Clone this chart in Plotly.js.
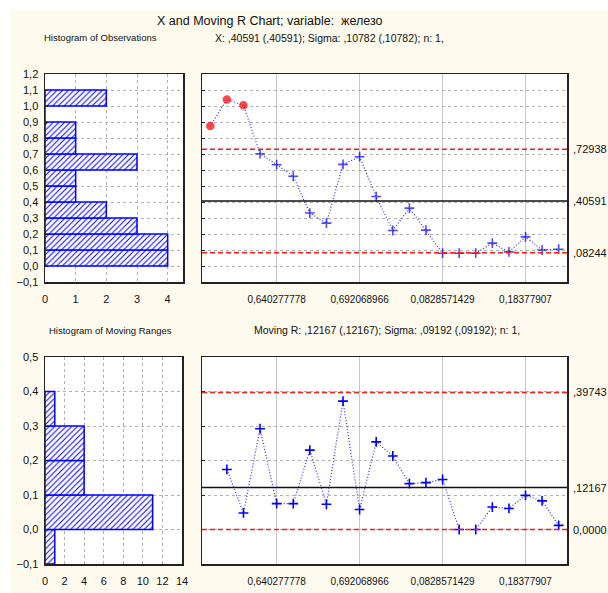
<!DOCTYPE html>
<html>
<head>
<meta charset="utf-8">
<script src="https://cdn.plot.ly/plotly-3.0.1.min.js"></script>
<style>html,body{margin:0;padding:0;background:#fff;}#chart{width:608px;height:593px;}</style>
</head>
<body>
<div id="chart"></div>
<script>
// ---- data ----
var xValues = [0.875, 1.041, 1.005, 0.702, 0.633, 0.561, 0.331, 0.268, 0.635, 0.683, 0.434,
               0.222, 0.362, 0.224, 0.080, 0.080, 0.080, 0.143, 0.088, 0.182, 0.100, 0.105];
var mrValues = [0.174, 0.048, 0.292, 0.075, 0.075, 0.230, 0.073, 0.372, 0.058, 0.254, 0.213,
                0.133, 0.136, 0.145, 0.000, 0.000, 0.065, 0.061, 0.099, 0.083, 0.012];
var xCL = 0.40591, xUCL = 0.72938, xLCL = 0.08244;
var mrCL = 0.12167, mrUCL = 0.39743, mrLCL = 0.0;
var xCtrlLabels = [',72938', ',40591', ',08244'];
var mrCtrlLabels = [',39743', ',12167', '0,0000'];
var histObsBins = [0.0, 0.1, 0.2, 0.3, 0.4, 0.5, 0.6, 0.7, 0.8, 0.9, 1.0];
var histObsCounts = [4, 4, 3, 2, 1, 1, 3, 1, 1, 0, 2];
var histMRBins = [-0.1, 0.0, 0.1, 0.2, 0.3];
var histMRCounts = [1, 11, 4, 4, 1];
var binWidth = 0.1;
var sampleTickVals = [5, 10, 15, 20];
var sampleTickText = ['0,640277778', '0,692068966', '0,0828571429', '0,18377907'];
var titleText = 'X and Moving R Chart; variable:  железо';
var subHistObs = 'Histogram of Observations';
var subX = 'X: ,40591 (,40591); Sigma: ,10782 (,10782); n: 1,';
var subHistMR = 'Histogram of Moving Ranges';
var subMR = 'Moving R: ,12167 (,12167); Sigma: ,09192 (,09192); n: 1,';

// ---- build ----
var W = 608, H = 593;
function px(x){return x / W;}
function py(y){return 1 - y / H;}
var FONT = '"Liberation Sans Narrow", "Arial Narrow", "Liberation Sans", Arial, sans-serif';
var BLUE = '#0000ff';

var xIdx = xValues.map(function(v, i){return i + 1;});
var mrIdx = mrValues.map(function(v, i){return i + 2;});
var xColors = xValues.map(function(v){return v > xUCL ? '#ff0000' : BLUE;});
var xSymbols = xValues.map(function(v){return v > xUCL ? 'circle' : 'cross-thin';});
var xSizes = xValues.map(function(v){return v > xUCL ? 7 : 7;});

var hatch = {shape: '/', fgcolor: BLUE, bgcolor: '#ffffff', size: 4, solidity: 0.25};
var DOT = '1px,2px';
var RDASH = '5px,3px';

var traces = [
  {type: 'bar', orientation: 'h', xaxis: 'x', yaxis: 'y',
   x: histObsCounts, y: histObsBins.map(function(b){return b + binWidth / 2;}), width: binWidth,
   marker: {color: '#ffffff', pattern: hatch, line: {color: BLUE, width: 1.5}}, hoverinfo: 'none'},
  {type: 'scatter', mode: 'lines+markers', xaxis: 'x2', yaxis: 'y2',
   x: xIdx, y: xValues,
   line: {color: '#2d2dff', width: 1.2, dash: DOT},
   marker: {symbol: xSymbols, color: xColors, size: xSizes, line: {color: xColors, width: 1.6}}},
  {type: 'bar', orientation: 'h', xaxis: 'x3', yaxis: 'y3',
   x: histMRCounts, y: histMRBins.map(function(b){return b + binWidth / 2;}), width: binWidth,
   marker: {color: '#ffffff', pattern: hatch, line: {color: BLUE, width: 1.5}}, hoverinfo: 'none'},
  {type: 'scatter', mode: 'lines+markers', xaxis: 'x4', yaxis: 'y4',
   x: mrIdx, y: mrValues,
   line: {color: '#2d2dff', width: 1.2, dash: DOT},
   marker: {symbol: 'cross-thin', color: BLUE, size: 7, line: {color: BLUE, width: 1.6}}}
];

var frame = {showline: true, mirror: true, linecolor: '#222', linewidth: 1.5, zeroline: false,
             tickfont: {family: FONT, size: 11, color: '#111'}, fixedrange: true};
function ax(extra){ var o = {}; for (var k in frame) o[k] = frame[k]; for (var k2 in extra) o[k2] = extra[k2]; return o; }
var smallTick = {family: FONT, size: 10, color: '#111'};

var topD = [py(282), py(74)], botD = [py(564), py(357)];
var layout = {
  width: W, height: H, margin: {l: 0, r: 0, t: 0, b: 0},
  paper_bgcolor: '#fffaee', plot_bgcolor: '#ffffff', showlegend: false,
  separators: ', ', font: {family: FONT, size: 11, color: '#111'},
  bargap: 0,
  xaxis: ax({domain: [px(45), px(183)], anchor: 'y', range: [0, 4.5], tickvals: [0, 1, 2, 3, 4],
             showgrid: true, gridcolor: '#b0b0b0', griddash: 'dot', ticks: '', ticklabelstandoff: 6}),
  yaxis: ax({domain: topD, anchor: 'x', range: [-0.1, 1.2], dtick: 0.1, tick0: 0, tickformat: '.1f',
             showgrid: true, gridcolor: '#b0b0b0', griddash: 'dot', ticks: 'inside', ticklen: 3, tickcolor: '#222', ticklabelstandoff: 3}),
  xaxis2: ax({domain: [px(202), px(567)], anchor: 'y2', range: [0.5, 22.5], tickvals: sampleTickVals, ticktext: sampleTickText,
              showgrid: true, gridcolor: '#c8c8c8', ticks: '', ticklabelstandoff: 7, tickfont: smallTick}),
  yaxis2: ax({domain: topD, anchor: 'x2', range: [-0.1, 1.2], dtick: 0.1, tick0: 0, showticklabels: false,
              showgrid: true, gridcolor: '#b0b0b0', griddash: 'dot', ticks: 'inside', ticklen: 3, tickcolor: '#222'}),
  xaxis3: ax({domain: [px(45), px(182)], anchor: 'y3', range: [0, 14], dtick: 2, tick0: 0,
              showgrid: true, gridcolor: '#b0b0b0', griddash: 'dot', ticks: '', ticklabelstandoff: 6}),
  yaxis3: ax({domain: botD, anchor: 'x3', range: [-0.1, 0.5], dtick: 0.1, tick0: 0, tickformat: '.1f',
              showgrid: true, gridcolor: '#b0b0b0', griddash: 'dot', ticks: 'inside', ticklen: 3, tickcolor: '#222', ticklabelstandoff: 3}),
  xaxis4: ax({domain: [px(202), px(567)], anchor: 'y4', range: [0.5, 22.5], tickvals: sampleTickVals, ticktext: sampleTickText,
              showgrid: true, gridcolor: '#c8c8c8', ticks: '', ticklabelstandoff: 7, tickfont: smallTick}),
  yaxis4: ax({domain: botD, anchor: 'x4', range: [-0.1, 0.5], dtick: 0.1, tick0: 0, showticklabels: false,
              showgrid: true, gridcolor: '#b0b0b0', griddash: 'dot', ticks: 'inside', ticklen: 3, tickcolor: '#222'}),
  shapes: [
    {type: 'rect', xref: 'paper', yref: 'paper', x0: 0, x1: px(10), y0: 0, y1: 1, fillcolor: '#ffffff', line: {width: 0}, layer: 'below'},
    {type: 'rect', xref: 'paper', yref: 'paper', x0: 0, x1: 1, y0: py(10), y1: 1, fillcolor: '#ffffff', line: {width: 0}, layer: 'below'},
    {type: 'line', xref: 'x2 domain', yref: 'y2', x0: 0, x1: 1, y0: xUCL, y1: xUCL, line: {color: '#ff1a1a', width: 1.5, dash: RDASH}},
    {type: 'line', xref: 'x2 domain', yref: 'y2', x0: 0, x1: 1, y0: xLCL, y1: xLCL, line: {color: '#ff1a1a', width: 1.5, dash: RDASH}},
    {type: 'line', xref: 'x2 domain', yref: 'y2', x0: 0, x1: 1, y0: xCL, y1: xCL, line: {color: '#111', width: 1.5}},
    {type: 'line', xref: 'x4 domain', yref: 'y4', x0: 0, x1: 1, y0: mrUCL, y1: mrUCL, line: {color: '#ff1a1a', width: 1.5, dash: RDASH}},
    {type: 'line', xref: 'x4 domain', yref: 'y4', x0: 0, x1: 1, y0: mrLCL, y1: mrLCL, line: {color: '#ff1a1a', width: 1.5, dash: RDASH}},
    {type: 'line', xref: 'x4 domain', yref: 'y4', x0: 0, x1: 1, y0: mrCL, y1: mrCL, line: {color: '#111', width: 1.5}}
  ],
  annotations: [
    {text: titleText, xref: 'paper', yref: 'paper', x: px(270), y: py(21), xanchor: 'center', yanchor: 'middle', showarrow: false, font: {family: FONT, size: 12.5, color: '#111'}},
    {text: subHistObs, xref: 'paper', yref: 'paper', x: px(42), y: py(38), xanchor: 'left', yanchor: 'middle', showarrow: false, font: {family: FONT, size: 9.5, color: '#111'}},
    {text: subX, xref: 'paper', yref: 'paper', x: px(213), y: py(38), xanchor: 'left', yanchor: 'middle', showarrow: false, font: {family: FONT, size: 10.5, color: '#111'}},
    {text: subHistMR, xref: 'paper', yref: 'paper', x: px(47), y: py(330), xanchor: 'left', yanchor: 'middle', showarrow: false, font: {family: FONT, size: 9.5, color: '#111'}},
    {text: subMR, xref: 'paper', yref: 'paper', x: px(252), y: py(330), xanchor: 'left', yanchor: 'middle', showarrow: false, font: {family: FONT, size: 10.5, color: '#111'}}
  ]
};
var xCtrl = [xUCL, xCL, xLCL], mrCtrl = [mrUCL, mrCL, mrLCL];
xCtrl.forEach(function(v, i){
  layout.annotations.push({text: xCtrlLabels[i], xref: 'paper', yref: 'y2', x: px(571), y: v, xanchor: 'left', yanchor: 'middle', showarrow: false, font: {family: FONT, size: 11, color: '#111'}});
});
mrCtrl.forEach(function(v, i){
  layout.annotations.push({text: mrCtrlLabels[i], xref: 'paper', yref: 'y4', x: px(571), y: v, xanchor: 'left', yanchor: 'middle', showarrow: false, font: {family: FONT, size: 11, color: '#111'}});
});

Plotly.newPlot('chart', traces, layout, {staticPlot: true, displayModeBar: false});
</script>
</body>
</html>
